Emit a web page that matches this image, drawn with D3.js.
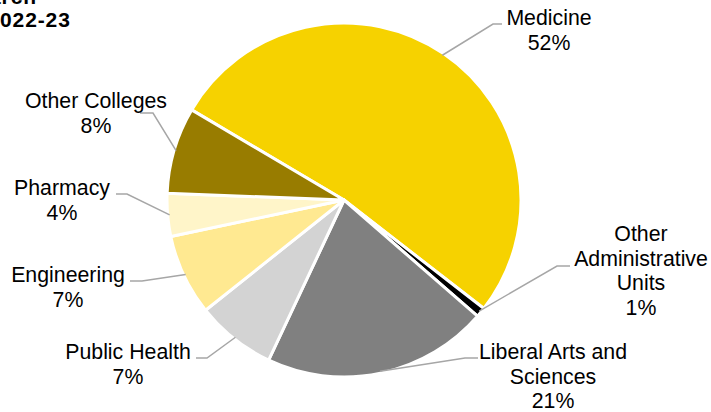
<!DOCTYPE html>
<html>
<head>
<meta charset="utf-8">
<script src="https://cdn.jsdelivr.net/npm/d3@7"></script>
<style>
  html, body { margin: 0; padding: 0; background: #fff; }
  svg { display: block; font-family: Arial, "Liberation Sans", sans-serif; }
</style>
</head>
<body>
<svg id="chart" width="711" height="412"></svg>
<script>
// ---- data ----
const categories = ["Medicine", "Other Administrative Units", "Liberal Arts and Sciences", "Public Health", "Engineering", "Pharmacy", "Other Colleges"];
const shares = [52.0, 0.9, 20.6, 7.3, 7.4, 3.9, 7.9];
const labelLines = [["Medicine"], ["Other", "Administrative", "Units"], ["Liberal Arts and", "Sciences"], ["Public Health"], ["Engineering"], ["Pharmacy"], ["Other Colleges"]];
const colors = ["#F6D200", "#000000", "#808080", "#D3D3D3", "#FFE991", "#FFF5C9", "#987C00"];
const titleLines = ["Research", "2022-23"];

// ---- layout ----
const W = 711, H = 412;
const cx = 344, cy = 200, R = 177;
const startDeg = 300.6;
// label text center x, first line y (baseline), elbow point, horizontal end
const labelLayout = [
  { x: 549, y: 25, elbow: [493, 24], end: [502, 24] },
  { x: 641, y: 241, elbow: [557, 266], end: [570, 266] },
  { x: 553, y: 359, elbow: [465, 358], end: [478, 358] },
  { x: 128, y: 359, elbow: [207, 358], end: [196, 358] },
  { x: 68, y: 282, elbow: [142, 281], end: [130, 281] },
  { x: 62, y: 195, elbow: [127, 194], end: [116, 194] },
  { x: 96, y: 108, elbow: [153, 113], end: [140, 113] }
];
const fontSize = 21.3, lineH = 24.5;

const svg = d3.select("#chart");
const data = categories.map((c, i) => ({ name: c, value: shares[i], i }));
const a0 = startDeg * Math.PI / 180;
const pie = d3.pie().value(d => d.value).sort(null).startAngle(a0).endAngle(a0 + 2 * Math.PI);
const arcs = pie(data);
const arc = d3.arc().innerRadius(0).outerRadius(R);

const g = svg.append("g").attr("transform", `translate(${cx},${cy})`);
g.selectAll("path.slice").data(arcs).enter().append("path")
  .attr("class", "slice")
  .attr("d", arc)
  .attr("fill", d => colors[d.data.i])
  .attr("stroke", "#fff")
  .attr("stroke-width", 3)
  .attr("stroke-linejoin", "round");

// leader lines + labels
const pctFmt = v => Math.round(v) + "%";
arcs.forEach(d => {
  const L = labelLayout[d.data.i];
  const mid = (d.startAngle + d.endAngle) / 2;
  const sx = cx + Math.sin(mid) * (R - 2);
  const sy = cy - Math.cos(mid) * (R - 2);
  svg.append("polyline")
    .attr("points", [[sx, sy], L.elbow, L.end].map(p => p.join(",")).join(" "))
    .attr("fill", "none")
    .attr("stroke", "#A6A6A6")
    .attr("stroke-width", 1.5);
  const lines = labelLines[d.data.i].concat([pctFmt(d.data.value)]);
  const t = svg.append("text")
    .attr("text-anchor", "middle")
    .attr("font-size", fontSize)
    .attr("fill", "#000");
  lines.forEach((ln, k) => {
    t.append("tspan").attr("x", L.x).attr("y", L.y + k * lineH).text(ln);
  });
});

// title (clipped at the left/top edge, as in the reference)
svg.append("text")
  .attr("text-anchor", "end")
  .attr("font-size", 21)
  .attr("font-weight", "bold")
  .attr("letter-spacing", 0.9)
  .attr("x", 37).attr("y", 4)
  .text(titleLines[0]);
svg.append("text")
  .attr("text-anchor", "start")
  .attr("font-size", 21)
  .attr("font-weight", "bold")
  .attr("letter-spacing", 0.9)
  .attr("x", -12.6).attr("y", 27)
  .text(titleLines[1]);
</script>
</body>
</html>
